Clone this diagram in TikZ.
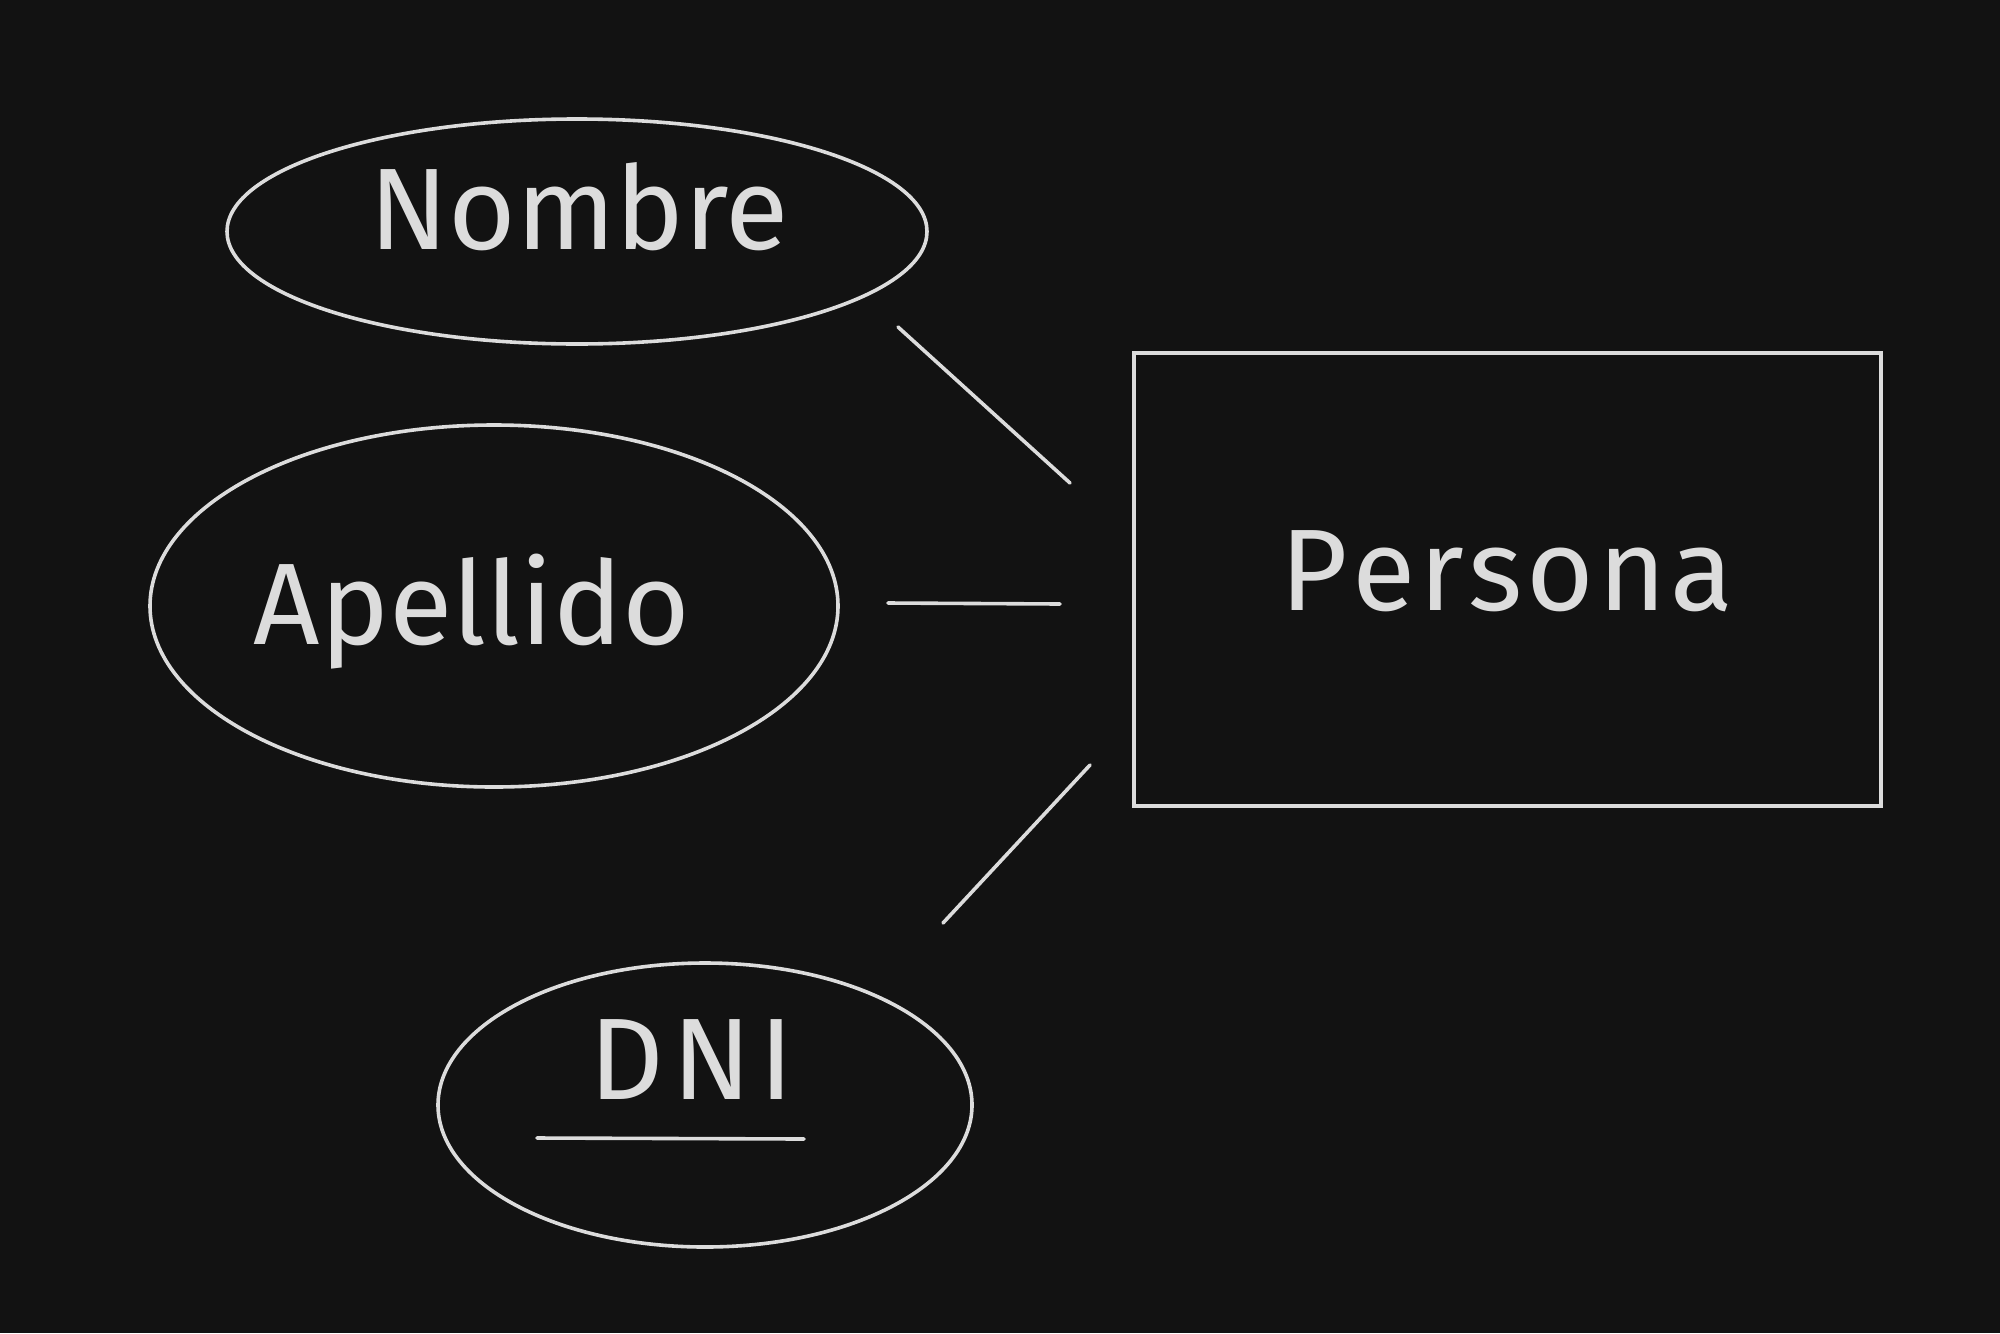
\documentclass[tikz,border=0pt]{standalone}
\usepackage{fontspec}
\setmainfont{Fira Sans}
\usetikzlibrary{shapes.geometric}
\definecolor{bg}{HTML}{121212}
\definecolor{ink}{HTML}{DCDCDC}
\tikzset{
  ink line/.style={draw=ink, line width=1.8pt, line cap=round},
  attr/.style={ellipse, ink line, inner sep=0pt},
  entity/.style={rectangle, ink line, inner sep=0pt},
  lbl/.style={text=ink, anchor=base, inner sep=0pt, font=\fontsize{58}{60}\selectfont},
}
\begin{document}
\begin{tikzpicture}[x=0.5pt,y=-0.5pt]
\fill[bg] (0,0) rectangle (2000,1333);
\useasboundingbox (0,0) rectangle (2000,1333);

% shapes
\node[attr, minimum width=350pt, minimum height=112.5pt] (nombre) at (577,231.5) {};
\node[attr, minimum width=344pt, minimum height=181pt] (apellido) at (494,606) {};
\node[attr, minimum width=267pt, minimum height=142pt] (dni) at (705,1105) {};
\node[entity, minimum width=373.5pt, minimum height=226.5pt] (persona) at (1507.5,579.5) {};

% texts
\node[lbl] (tnombre) at (579,249) {Nombre};
\node[lbl] (tapellido) at (472,644) {Apellido};
\node[lbl] (tdni) at (692,1099) {D\kern4pt N\kern4pt I};
\node[lbl] (tpersona) at (1507,610) {P\kern2pt e\kern2pt r\kern2pt s\kern2pt o\kern2pt n\kern2pt a};
\coordinate (u1) at (537,1138);
\coordinate (u2) at (804,1139);
\draw[ink line] (u1) -- (u2);

% connector ends
\coordinate (n1) at (898,327);
\coordinate (n2) at (1070,483);
\coordinate (a1) at (888,603);
\coordinate (a2) at (1060,604);
\coordinate (d1) at (943,923);
\coordinate (d2) at (1090,765);

\draw[ink line] (n1) -- (n2);
\draw[ink line] (a1) -- (a2);
\draw[ink line] (d1) -- (d2);
\end{tikzpicture}
\end{document}
